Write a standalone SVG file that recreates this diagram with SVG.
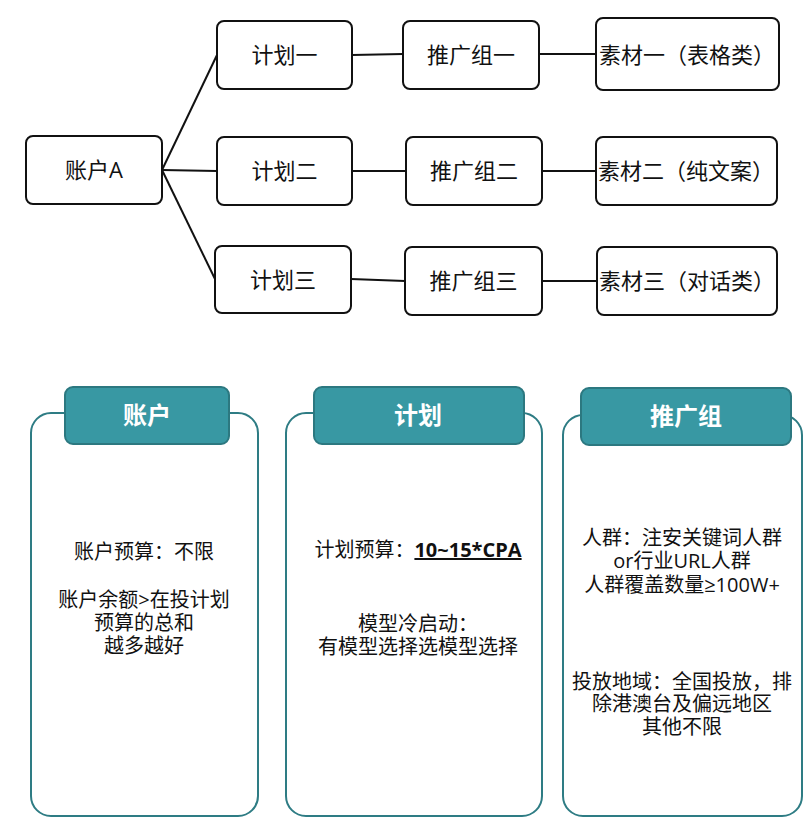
<svg xmlns="http://www.w3.org/2000/svg" width="808" height="837" viewBox="0 0 808 837">
<style>
.n rect{fill:#fff;stroke:#111;stroke-width:2}
.t{font-family:"Open Sans","Noto Sans CJK SC",sans-serif;font-size:22px;fill:#111;text-anchor:middle}
.ts{text-anchor:start}
.c line{stroke:#111;stroke-width:2}
.card{fill:#fff;stroke:#2E7C84;stroke-width:2}
.tab{fill:#3898A3;stroke:#2C7880;stroke-width:2}
.h{font-family:"Noto Sans CJK SC",sans-serif;font-size:24px;font-weight:bold;fill:#fff;text-anchor:middle}
.b{font-family:"Open Sans","Noto Sans CJK SC",sans-serif;font-size:20px;fill:#111;text-anchor:middle}
</style>
<rect width="808" height="837" fill="#fff"/>
<g class="c" id="connectors">
<line x1="162" y1="170" x2="217" y2="55"/>
<line x1="162" y1="170" x2="217" y2="171"/>
<line x1="162" y1="170" x2="215" y2="279"/>
<line x1="352" y1="55" x2="403" y2="54"/>
<line x1="539" y1="54" x2="596" y2="54"/>
<line x1="352" y1="171" x2="406" y2="171"/>
<line x1="542" y1="171" x2="596" y2="171"/>
<line x1="351" y1="279" x2="405" y2="281"/>
<line x1="542" y1="281" x2="597" y2="281"/>
</g>
<g class="n" id="accountA"><rect x="26" y="136" width="136" height="68" rx="7"/><text class="t" x="94" y="178">账户A</text></g>
<g class="n" id="plan1"><rect x="217" y="21" width="135" height="68" rx="7"/><text class="t" x="284.5" y="63">计划一</text></g>
<g class="n" id="plan2"><rect x="217" y="137" width="135" height="68" rx="7"/><text class="t" x="284.5" y="179">计划二</text></g>
<g class="n" id="plan3"><rect x="215" y="246" width="136" height="67" rx="7"/><text class="t" x="283" y="288">计划三</text></g>
<g class="n" id="group1"><rect x="403" y="21" width="136" height="68" rx="7"/><text class="t" x="471" y="63">推广组一</text></g>
<g class="n" id="group2"><rect x="406" y="137" width="136" height="68" rx="7"/><text class="t" x="474" y="179">推广组二</text></g>
<g class="n" id="group3"><rect x="405" y="247" width="137" height="68" rx="7"/><text class="t" x="473.5" y="289">推广组三</text></g>
<g class="n" id="mat1"><rect x="596" y="18" width="183" height="72" rx="7"/><text class="t ts" x="599" y="63">素材一（表格类）</text></g>
<g class="n" id="mat2"><rect x="596" y="137" width="181" height="68" rx="7"/><text class="t ts" x="598" y="179">素材二（纯文案）</text></g>
<g class="n" id="mat3"><rect x="597" y="247" width="180" height="68" rx="7"/><text class="t ts" x="599" y="289">素材三（对话类）</text></g>

<g id="card-account">
<rect class="card" x="31" y="413" width="227" height="403" rx="20"/>
<rect class="tab" x="65" y="387" width="164" height="57" rx="8"/>
<text class="h" x="147" y="424">账户</text>
<text class="b" x="144" y="559">账户预算：不限</text>
<text class="b" x="144" y="607">账户余额&gt;在投计划</text>
<text class="b" x="144" y="630">预算的总和</text>
<text class="b" x="144" y="653">越多越好</text>
</g>
<g id="card-plan">
<rect class="card" x="286" y="413" width="256" height="403" rx="20"/>
<rect class="tab" x="314" y="387" width="210" height="57" rx="8"/>
<text class="h" x="418" y="424">计划</text>
<text class="b" x="418" y="557">计划预算：<tspan font-weight="bold" text-decoration="underline">10~15*CPA</tspan></text>
<text class="b" x="418" y="631">模型冷启动：</text>
<text class="b" x="418" y="654">有模型选择选模型选择</text>
</g>
<g id="card-group">
<rect class="card" x="563" y="415" width="239" height="401" rx="20"/>
<rect class="tab" x="581" y="388" width="210" height="57" rx="8"/>
<text class="h" x="686" y="425">推广组</text>
<text class="b" x="682" y="545">人群：注安关键词人群</text>
<text class="b" x="682" y="568">or行业URL人群</text>
<text class="b" x="682" y="592">人群覆盖数量≥100W+</text>
<text class="b" x="682" y="689">投放地域：全国投放，排</text>
<text class="b" x="682" y="711">除港澳台及偏远地区</text>
<text class="b" x="682" y="734">其他不限</text>
</g>
</svg>
